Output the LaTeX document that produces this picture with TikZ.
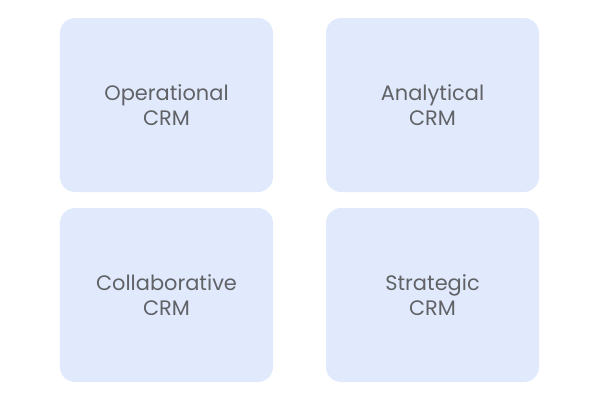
\documentclass[tikz,border=0pt]{standalone}
\usepackage{fontspec}
\setmainfont{Poppins}
\definecolor{boxfill}{HTML}{E1EAFD}
\definecolor{txt}{HTML}{606266}
\begin{document}
\begin{tikzpicture}[x=1bp,y=-1bp,
  card/.style={fill=boxfill,draw=none,rounded corners=15bp,minimum width=213bp,minimum height=174bp,inner sep=0pt,
    text=txt,align=center,font=\fontsize{21}{25}\selectfont}]
\useasboundingbox (0,0) rectangle (600,400);
\node[card] (op) at (166.5,105) {Operational\\CRM};
\node[card] (an) at (432.5,105) {Analytical\\CRM};
\node[card] (co) at (166.5,295) {Collaborative\\CRM};
\node[card] (st) at (432.5,295) {Strategic\\CRM};
\end{tikzpicture}
\end{document}
